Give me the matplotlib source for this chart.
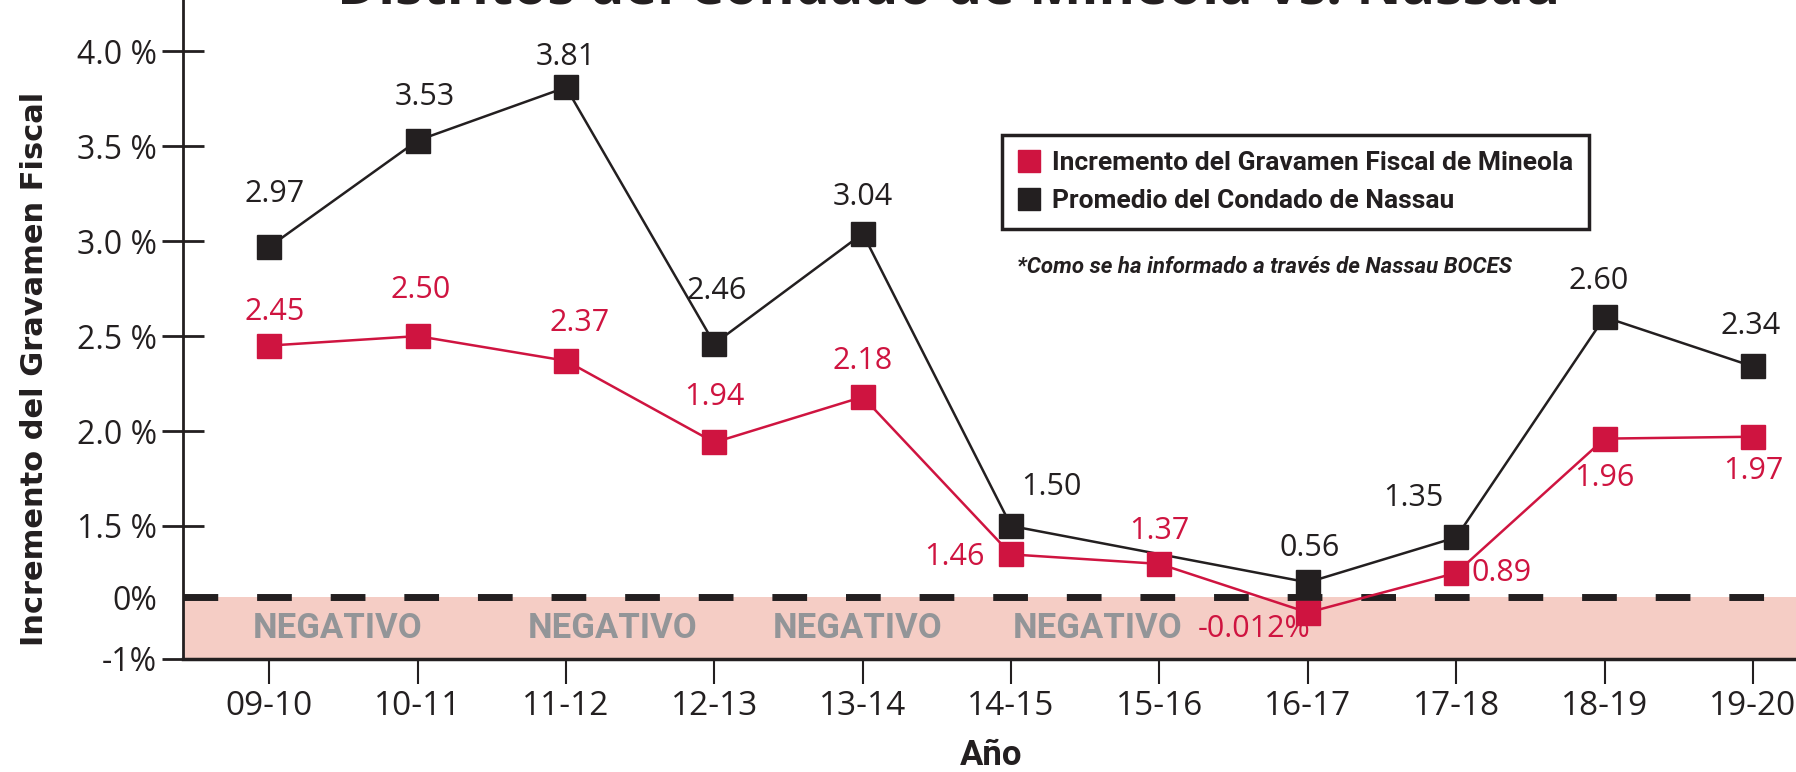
import numpy as np
import matplotlib
matplotlib.use('Agg')
import matplotlib.pyplot as plt
import matplotlib.transforms as mtransforms
from matplotlib.lines import Line2D

# data
years = ['09-10', '10-11', '11-12', '12-13', '13-14', '14-15',
         '15-16', '16-17', '17-18', '18-19', '19-20']
# Mineola levy increase (position as drawn) and the printed labels
mineola = [2.45, 2.50, 2.37, 1.94, 2.18, 0.90, 0.70, -0.25, 0.51, 1.96, 1.97]
mineola_labels = ['2.45', '2.50', '2.37', '1.94', '2.18', '1.46', '1.37',
                  '-0.012%', '0.89', '1.96', '1.97']
# Nassau county average, no point for 15-16
nassau = [2.97, 3.53, 3.81, 2.46, 3.04, 1.50, np.nan, 0.31, 1.26, 2.60, 2.34]
nassau_labels = ['2.97', '3.53', '3.81', '2.46', '3.04', '1.50', '',
                 '0.56', '1.35', '2.60', '2.34']

ytick_vals = [-1, 0, 1.5, 2.0, 2.5, 3.0, 3.5, 4.0]
ytick_labels = ['-1%', '0%', '1.5 %', '2.0 %', '2.5 %', '3.0 %', '3.5 %', '4.0 %']

# label offsets in points (dx, dy)
mineola_offsets = [(4, 24), (2, 33), (10, 27), (0, 33), (0, 26), (-41, -2),
                   (0, 24), (-39, -12), (33, 0), (0, -28), (0, -25)]
nassau_offsets = [(4, 38), (5, 31), (0, 22), (2, 38), (0, 26), (29, 28),
                  (0, 0), (1, 25), (-31, 28), (-4, 26), (-2, 29)]

RED = '#cf1440'
BLACK = '#231f20'
PINK = '#f5cdc5'
GRAY = '#939598'

plt.rcParams['font.family'] = ['Open Sans', 'DejaVu Sans']
NARROW = ['Roboto', 'DejaVu Sans']

fig = plt.figure(figsize=(17.96, 7.72), dpi=100)
ax = fig.add_axes([0.102, 0.1464, 0.898, 0.8536])

# the original squeezes the 0..1.5 and -1..0 parts of the axis
scale_vals = [-1, 0, 1.5, 4.0, 4.5]
scale_pos = [0, 54, 116, 530, 612.8]


def fwd(v):
    return np.interp(v, scale_vals, scale_pos)


def inv(p):
    return np.interp(p, scale_pos, scale_vals)


ax.set_yscale('function', functions=(fwd, inv))

x = np.arange(len(years))

# negative zone
ax.axhspan(-1, 0, color=PINK, lw=0, zorder=0)
ax.axhline(0, color=BLACK, lw=5, linestyle=(0, (5, 5.6)), zorder=1)
blend = mtransforms.blended_transform_factory(ax.transAxes, ax.transData)
for xf in [0.096, 0.266, 0.418, 0.567]:
    ax.text(xf, -0.5, 'NEGATIVO', transform=blend, ha='center', va='center',
            fontsize=25, fontweight='bold', family=NARROW, color=GRAY)

nas = np.array(nassau, dtype=float)
ok = ~np.isnan(nas)
ax.plot(x[ok], nas[ok], color=BLACK, lw=1.8, marker='s', ms=17, zorder=3)
ax.plot(x, mineola, color=RED, lw=1.8, marker='s', ms=17, zorder=4)

for xi, v, t, (dx, dy) in zip(x, nassau, nassau_labels, nassau_offsets):
    if t:
        ax.annotate(t, (xi, v), xytext=(dx, dy), textcoords='offset points',
                    ha='center', va='center', fontsize=22, color=BLACK)
for xi, v, t, (dx, dy) in zip(x, mineola, mineola_labels, mineola_offsets):
    ax.annotate(t, (xi, v), xytext=(dx, dy), textcoords='offset points',
                ha='center', va='center', fontsize=22, color=RED)

ax.set_xlim(-0.58, 10.29)
ax.set_ylim(-1, 4.27)
ax.set_xticks(x)
ax.set_xticklabels(years)
ax.set_yticks(ytick_vals)
ax.set_yticklabels(ytick_labels)
ax.yaxis.get_major_ticks()[1].tick1line.set_visible(False)

ax.spines['top'].set_visible(False)
ax.spines['right'].set_visible(False)
ax.spines['left'].set_linewidth(2)
ax.spines['bottom'].set_linewidth(2.5)
ax.spines['left'].set_color(BLACK)
ax.spines['bottom'].set_color(BLACK)
ax.tick_params(axis='y', direction='inout', length=30, width=2,
               labelsize=23, pad=4, colors=BLACK)
ax.tick_params(axis='x', direction='out', length=18, width=1.5,
               labelsize=24, pad=4, colors=BLACK)

# titles and labels
fig.text(0.528, 1.0 - 4 / 772, 'Distritos del Condado de Mineola vs. Nassau',
         ha='center', va='baseline', fontsize=40, fontweight='bold', color=BLACK)
fig.text(0.019, 0.522, 'Incremento del Gravamen Fiscal', rotation=90,
         ha='center', va='center', fontsize=22, fontweight='bold',
         family='DejaVu Sans', color=BLACK)
fig.text(0.552, 0.021, 'Año', ha='center', va='center', fontsize=25,
         fontweight='bold', family=NARROW, color=BLACK)

handles = [Line2D([], [], ls='none', marker='s', ms=16, color=RED),
           Line2D([], [], ls='none', marker='s', ms=16, color=BLACK)]
leg = fig.legend(handles, ['Incremento del Gravamen Fiscal de Mineola',
                           'Promedio del Condado de Nassau'],
                 loc='upper left', bbox_to_anchor=(0.558, 0.825),
                 frameon=True, fancybox=False, edgecolor=BLACK, framealpha=1,
                 prop={'family': NARROW, 'weight': 'bold', 'size': 19},
                 handlelength=0.8, handletextpad=0.5, borderpad=0.6,
                 labelspacing=0.55, borderaxespad=0)
leg.get_frame().set_linewidth(2.5)
for t in leg.get_texts():
    t.set_color(BLACK)

fig.text(0.566, 0.654, '*Como se ha informado a través de Nassau BOCES',
         ha='left', va='center', fontsize=16, fontweight='bold',
         style='italic', family=NARROW, color=BLACK)

fig.savefig('out.png', dpi=100)
